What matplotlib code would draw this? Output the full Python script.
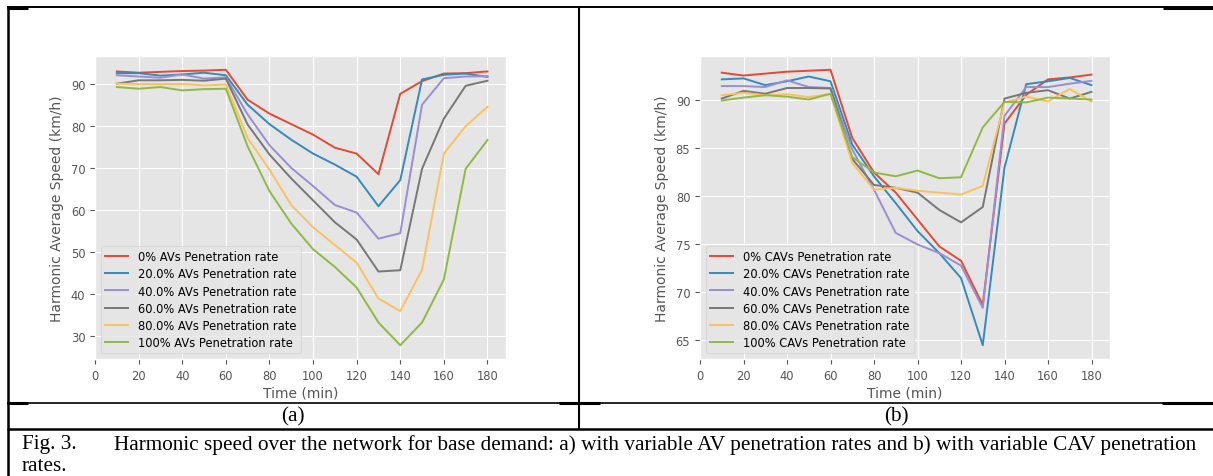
import matplotlib
matplotlib.use("Agg")
import matplotlib.pyplot as plt
from matplotlib.lines import Line2D

# ---------------- data ----------------
time_min = [10, 20, 30, 40, 50, 60, 70, 80, 90, 100, 110, 120, 130, 140, 150, 160, 170, 180]

av_labels = ["0% AVs Penetration rate", "20.0% AVs Penetration rate", "40.0% AVs Penetration rate",
             "60.0% AVs Penetration rate", "80.0% AVs Penetration rate", "100% AVs Penetration rate"]
av_0 = [92.9, 92.6, 92.8, 93.0, 93.1, 93.3, 86.2, 82.9, 80.4, 77.9, 74.8, 73.4, 68.5, 87.6, 90.6, 92.4, 92.5, 92.9]
av_20 = [92.5, 92.5, 91.9, 92.2, 92.6, 92.0, 85.0, 80.4, 76.7, 73.4, 70.8, 67.9, 60.9, 67.1, 91.0, 92.1, 92.4, 91.6]
av_40 = [92.0, 91.7, 91.4, 92.2, 91.2, 91.5, 82.7, 75.4, 70.0, 65.7, 61.2, 59.4, 53.2, 54.5, 85.0, 91.3, 91.7, 91.8]
av_60 = [90.0, 90.8, 90.8, 90.9, 90.7, 91.2, 80.3, 73.2, 67.5, 62.3, 57.1, 53.0, 45.4, 45.7, 69.8, 81.7, 89.5, 90.7]
av_80 = [90.0, 89.9, 89.9, 89.9, 89.6, 89.8, 77.1, 69.6, 61.2, 55.9, 51.7, 47.5, 39.0, 36.0, 45.8, 73.4, 79.9, 84.5]
av_100 = [89.2, 88.8, 89.2, 88.4, 88.7, 88.8, 75.1, 64.5, 56.8, 50.7, 46.5, 41.6, 33.3, 27.9, 33.3, 43.5, 69.8, 76.6]

cav_labels = ["0% CAVs Penetration rate", "20.0% CAVs Penetration rate", "40.0% CAVs Penetration rate",
              "60.0% CAVs Penetration rate", "80.0% CAVs Penetration rate", "100% CAVs Penetration rate"]
cav_0 = [92.9, 92.6, 92.8, 93.0, 93.1, 93.2, 86.1, 82.5, 80.4, 77.6, 74.8, 73.3, 68.7, 87.6, 90.6, 92.2, 92.4, 92.7]
cav_20 = [92.2, 92.3, 91.6, 92.0, 92.5, 92.0, 85.4, 82.1, 79.3, 76.4, 74.1, 71.5, 64.5, 83.0, 91.7, 92.0, 92.35, 91.6]
cav_40 = [91.5, 91.5, 91.4, 92.1, 91.4, 91.3, 84.9, 80.7, 76.2, 75.0, 74.1, 72.8, 68.4, 88.4, 91.4, 91.4, 91.75, 92.05]
cav_60 = [90.2, 91.0, 90.7, 91.3, 91.3, 91.25, 83.9, 81.2, 80.9, 80.4, 78.6, 77.3, 78.9, 90.2, 90.8, 91.07, 90.2, 90.9]
cav_80 = [90.55, 90.8, 90.55, 90.65, 90.35, 90.7, 83.5, 80.7, 80.9, 80.6, 80.4, 80.2, 81.1, 89.8, 90.4, 89.9, 91.2, 89.9]
cav_100 = [90.0, 90.3, 90.55, 90.4, 90.1, 90.7, 84.1, 82.5, 82.1, 82.7, 81.9, 82.0, 87.2, 89.85, 89.8, 90.3, 90.2, 90.1]

av_ticks = [30, 40, 50, 60, 70, 80, 90]
cav_ticks = [65, 70, 75, 80, 85, 90]
x_ticks = [0, 20, 40, 60, 80, 100, 120, 140, 160, 180]

caption_num = "Fig. 3."
caption_line1 = ("Harmonic speed over the network for base demand: a) with variable AV penetration "
                 "rates and b) with variable CAV penetration")
caption_line2 = "rates."

# ---------------- style ----------------
plt.style.use("ggplot")
plt.rcParams["font.family"] = ["DejaVu Sans"]
plt.rcParams["font.size"] = 8.3

W, H = 1213, 477
fig = plt.figure(figsize=(W / 100, H / 100), dpi=100)
fig.patch.set_facecolor("white")


def ax_rect(x0, x1, ytop, ybot):
    return [x0 / W, 1 - ybot / H, (x1 - x0) / W, (ybot - ytop) / H]


def draw_panel(rect, series, labels, yticks):
    ax = fig.add_axes(rect)
    for vals, lab in zip(series, labels):
        ax.plot(time_min, vals, lw=1.4, label=lab)
    ax.set_xlim(0, 188.5)
    ax.set_xticks(x_ticks)
    ax.set_yticks(yticks)
    ax.tick_params(labelsize=8.3, colors="#555555")
    ax.set_xlabel("Time (min)", fontsize=10, color="#555555", labelpad=3)
    ax.set_ylabel("Harmonic Average Speed (km/h)", fontsize=10, color="#555555", labelpad=5)
    ax.legend(loc="lower left", fontsize=8.3, handlelength=2.0, labelspacing=0.35,
              borderaxespad=0.5)
    return ax


draw_panel(ax_rect(95, 506, 57, 360), [av_0, av_20, av_40, av_60, av_80, av_100], av_labels, av_ticks)
draw_panel(ax_rect(700, 1110, 57, 360), [cav_0, cav_20, cav_40, cav_60, cav_80, cav_100], cav_labels, cav_ticks)


# ---------------- table frame ----------------
def hline(y, x0, x1, lw=1.2):
    fig.add_artist(Line2D([x0 / W, x1 / W], [1 - y / H, 1 - y / H], color="black", lw=lw,
                          transform=fig.transFigure, solid_capstyle="butt"))


def vline(x, y0, y1, lw=1.5):
    fig.add_artist(Line2D([x / W, x / W], [1 - y0 / H, 1 - y1 / H], color="black", lw=lw,
                          transform=fig.transFigure, solid_capstyle="butt"))


hline(8, 7, 1213, 1.4)
hline(8.5, 7, 28, 2.2)
hline(9.3, 1163, 1213, 2.2)
vline(7.5, 7, 477, 1.8)
vline(579, 8, 430, 1.5)
hline(404, 7, 1213, 1.2)
hline(404.3, 7, 28, 2.2)
hline(404.3, 559, 600, 2.2)
hline(404.3, 1162, 1213, 2.2)
hline(430, 7, 1213, 1.8)

serif = ["Liberation Serif", "DejaVu Serif"]
fs_cap = 15.35
fig.text(293 / W, 1 - 417 / H, "(a)", ha="center", va="center", fontsize=fs_cap, family=serif)
fig.text(896 / W, 1 - 417 / H, "(b)", ha="center", va="center", fontsize=fs_cap, family=serif)
fig.text(22 / W, 1 - 445 / H, caption_num, ha="left", va="center", fontsize=fs_cap, family=serif)
fig.text(114 / W, 1 - 445 / H, caption_line1, ha="left", va="center", fontsize=fs_cap, family=serif)
fig.text(22 / W, 1 - 467 / H, caption_line2, ha="left", va="center", fontsize=fs_cap, family=serif)

fig.savefig("out.png", dpi=100, facecolor="white")
